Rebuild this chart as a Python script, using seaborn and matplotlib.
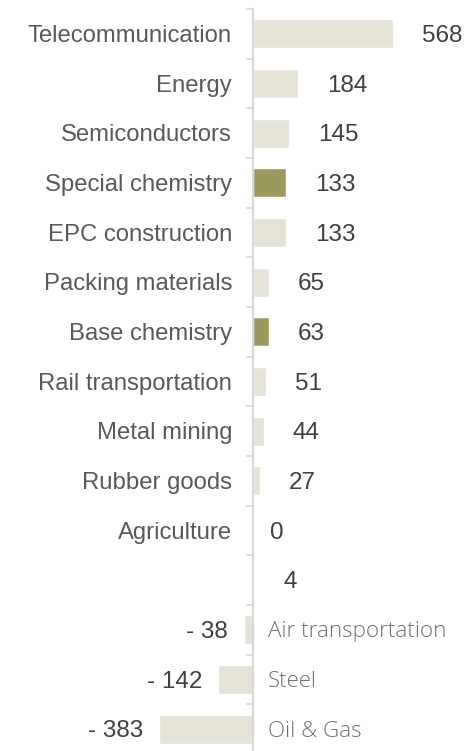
import matplotlib
matplotlib.use("Agg")
import matplotlib.pyplot as plt
import seaborn as sns
import pandas as pd

# Sector figures
categories = ["Telecommunication", "Energy", "Semiconductors", "Special chemistry",
              "EPC construction", "Packing materials", "Base chemistry",
              "Rail transportation", "Metal mining", "Rubber goods", "Agriculture",
              "", "Air transportation", "Steel", "Oil & Gas"]
values = [568, 184, 145, 133, 133, 65, 63, 51, 44, 27, 0, 4, -38, -142, -383]
highlighted = ["Special chemistry", "Base chemistry"]

BASE = "#e5e3d6"
ACCENT = "#9a995e"

sns.set_theme(style="white")
plt.rcParams["font.family"] = ["Liberation Sans", "DejaVu Sans"]

rows = [f"row{i}" for i in range(len(categories))]
df = pd.DataFrame({"row": rows, "category": categories, "value": values})
palette = {r: (ACCENT if c in highlighted else BASE) for r, c in zip(rows, categories)}

fig = plt.figure(figsize=(4.65, 7.51), dpi=100)
ax = fig.add_axes([0, -3 / 751, 1, 745 / 751])

sns.barplot(data=df, y="row", x="value", hue="row", palette=palette,
            order=rows, orient="h", width=0.58, legend=False,
            saturation=1, ax=ax)

px_per_unit = 0.2465
ax.set_xlim(-253 / px_per_unit, (465 - 253) / px_per_unit)
ax.set_ylim(len(rows) - 0.5, -0.5)

# Axis at zero with boundary ticks between categories
for side in ["top", "right", "bottom"]:
    ax.spines[side].set_visible(False)
ax.spines["left"].set_position(("data", 0))
ax.spines["left"].set_color("#d9d9d9")
ax.spines["left"].set_linewidth(1.6)
ax.set_yticks([i - 0.5 for i in range(len(rows) + 1)])
ax.set_yticklabels([])
ax.tick_params(axis="y", direction="out", length=5, width=1.2, color="#d9d9d9", left=True)
ax.set_xticks([])
ax.set_xlabel("")
ax.set_ylabel("")

for i, (cat, val) in enumerate(zip(categories, values)):
    if val >= 0:
        ax.annotate(cat, xy=(0, i), xytext=(-15.1, -1.5), textcoords="offset points",
                    ha="right", va="center", fontsize=17.2, color="#595959")
        pad = 12.2 if val == 0 else 20.9
        ax.annotate(f"{val}", xy=(val, i), xytext=(pad, -1.5), textcoords="offset points",
                    ha="left", va="center", fontsize=17.5, color="#404040")
    else:
        ax.annotate(cat, xy=(0, i), xytext=(10.8, -1.5), textcoords="offset points",
                    ha="left", va="center", fontsize=16.1, color="#707070",
                    family=["Open Sans", "DejaVu Sans"], fontweight="light")
        ax.annotate(f"- {abs(val)}", xy=(val, i), xytext=(-11.2, -1.5), textcoords="offset points",
                    ha="right", va="center", fontsize=17.5, color="#404040")

fig.savefig("out.png", dpi=100)
